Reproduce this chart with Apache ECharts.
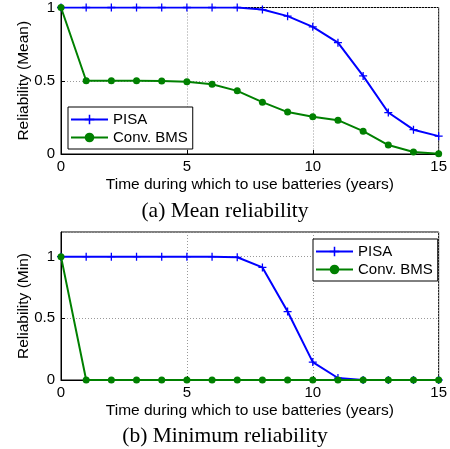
<!DOCTYPE html>
<html>
<head>
<meta charset="utf-8">
<script src="https://cdn.jsdelivr.net/npm/echarts@6/dist/echarts.min.js"></script>
<style>
  html, body { margin: 0; padding: 0; background: #fff; }
  #chart { width: 450px; height: 449px; }
</style>
</head>
<body>
<div id="chart"></div>
<script>
// years 0..15
const years = [0, 1, 2, 3, 4, 5, 6, 7, 8, 9, 10, 11, 12, 13, 14, 15];
const pisaMean = [1, 1, 1, 1, 1, 1, 1, 1, 0.986, 0.941, 0.868, 0.76, 0.533, 0.283, 0.166, 0.122];
const bmsMean = [1, 0.5, 0.5, 0.5, 0.499, 0.493, 0.476, 0.431, 0.354, 0.286, 0.254, 0.231, 0.156, 0.061, 0.014, 0.002];
const pisaMin = [1, 1, 1, 1, 1, 1, 1, 0.995, 0.913, 0.555, 0.145, 0.016, 0, 0, 0, 0];
const bmsMin = [1, 0, 0, 0, 0, 0, 0, 0, 0, 0, 0, 0, 0, 0, 0, 0];
const xTicks = [0, 5, 10, 15];
const captions = ['(a) Mean reliability', '(b) Minimum reliability'];

const blue = '#0000ff';
const green = '#008000';
const plusPath = 'path://M4.2,0H5.8V4.2H10V5.8H5.8V10H4.2V5.8H0V4.2H4.2Z';
const font = 'Liberation Sans';

const pairs = (ys) => years.map((x, i) => [x, ys[i]]);

function xAxis(idx) {
  return {
    gridIndex: idx, type: 'value', min: 0, max: 15, interval: 5,
    name: 'Time during which to use batteries (years)',
    nameLocation: 'middle', nameGap: 23,
    nameTextStyle: { fontFamily: font, fontSize: 15.5, color: '#000' },
    axisLine: { show: true, onZero: false, lineStyle: { color: '#000' } },
    axisTick: { inside: true, length: 4, lineStyle: { color: '#000' } },
    axisLabel: { fontFamily: font, fontSize: 15, color: '#000', margin: 5,
      formatter: v => xTicks.includes(v) ? String(v) : '' },
    splitLine: { show: true, lineStyle: { color: '#999', type: [1, 2] } }
  };
}

function yAxis(idx, max, name) {
  return {
    gridIndex: idx, type: 'value', min: 0, max: max, interval: 0.5,
    name: name, nameLocation: 'middle', nameGap: 29, nameMoveOverlap: false,
    nameTextStyle: { fontFamily: font, fontSize: 15.5, color: '#000' },
    axisLine: { show: true, lineStyle: { color: '#000' } },
    axisTick: { inside: true, length: 4, lineStyle: { color: '#000' } },
    axisLabel: { fontFamily: font, fontSize: 15, color: '#000', margin: 6, showMaxLabel: max === 1,
      formatter: v => (v === 0 || v === 0.5 || v === 1) ? String(v) : '' },
    splitLine: { show: true, lineStyle: { color: '#999', type: [1, 2] } }
  };
}

function series(name, idx, data, color, symbol, size, z) {
  return {
    name: name, type: 'line', xAxisIndex: idx, yAxisIndex: idx,
    data: pairs(data), color: color, z: z,
    symbol: symbol, symbolSize: size, showAllSymbol: true,
    lineStyle: { width: 2, color: color },
    itemStyle: { color: color, borderWidth: 0 },
    animation: false
  };
}

const legendCommon = {
  orient: 'vertical', backgroundColor: '#fff', borderColor: '#000', borderWidth: 1,
  padding: [5, 5, 4, 2], itemGap: 3, itemWidth: 37, itemHeight: 12,
  textStyle: { fontFamily: font, fontSize: 15, color: '#000' },
  data: ['PISA', 'Conv. BMS']
};

const chart = echarts.init(document.getElementById('chart'), null, { renderer: 'canvas' });
chart.setOption({
  backgroundColor: '#fff',
  animation: false,
  title: [
    { text: captions[0], left: 'center', top: 195,
      textStyle: { fontFamily: 'Liberation Serif', fontSize: 21.5, fontWeight: 'normal', color: '#000' } },
    { text: captions[1], left: 'center', top: 420,
      textStyle: { fontFamily: 'Liberation Serif', fontSize: 21.5, fontWeight: 'normal', color: '#000' } }
  ],
  grid: [
    { left: 61, top: 7, width: 382, height: 147, show: true, borderColor: '#000', borderWidth: 1 },
    { left: 61, top: 232, width: 382, height: 148, show: true, borderColor: '#000', borderWidth: 1 }
  ],
  legend: [
    Object.assign({}, legendCommon, { left: 68, top: 107 }),
    Object.assign({}, legendCommon, { left: 313, top: 239 })
  ],
  xAxis: [xAxis(0), xAxis(1)],
  yAxis: [yAxis(0, 1, 'Reliability (Mean)'), yAxis(1, 1.2, 'Reliability (Min)')],
  series: [
    series('PISA', 0, pisaMean, blue, plusPath, 8, 2),
    series('Conv. BMS', 0, bmsMean, green, 'circle', 7, 3),
    series('PISA', 1, pisaMin, blue, plusPath, 8, 2),
    series('Conv. BMS', 1, bmsMin, green, 'circle', 7, 3)
  ]
});

window.addEventListener('resize', () => { chart.resize(); });
</script>
</body>
</html>
